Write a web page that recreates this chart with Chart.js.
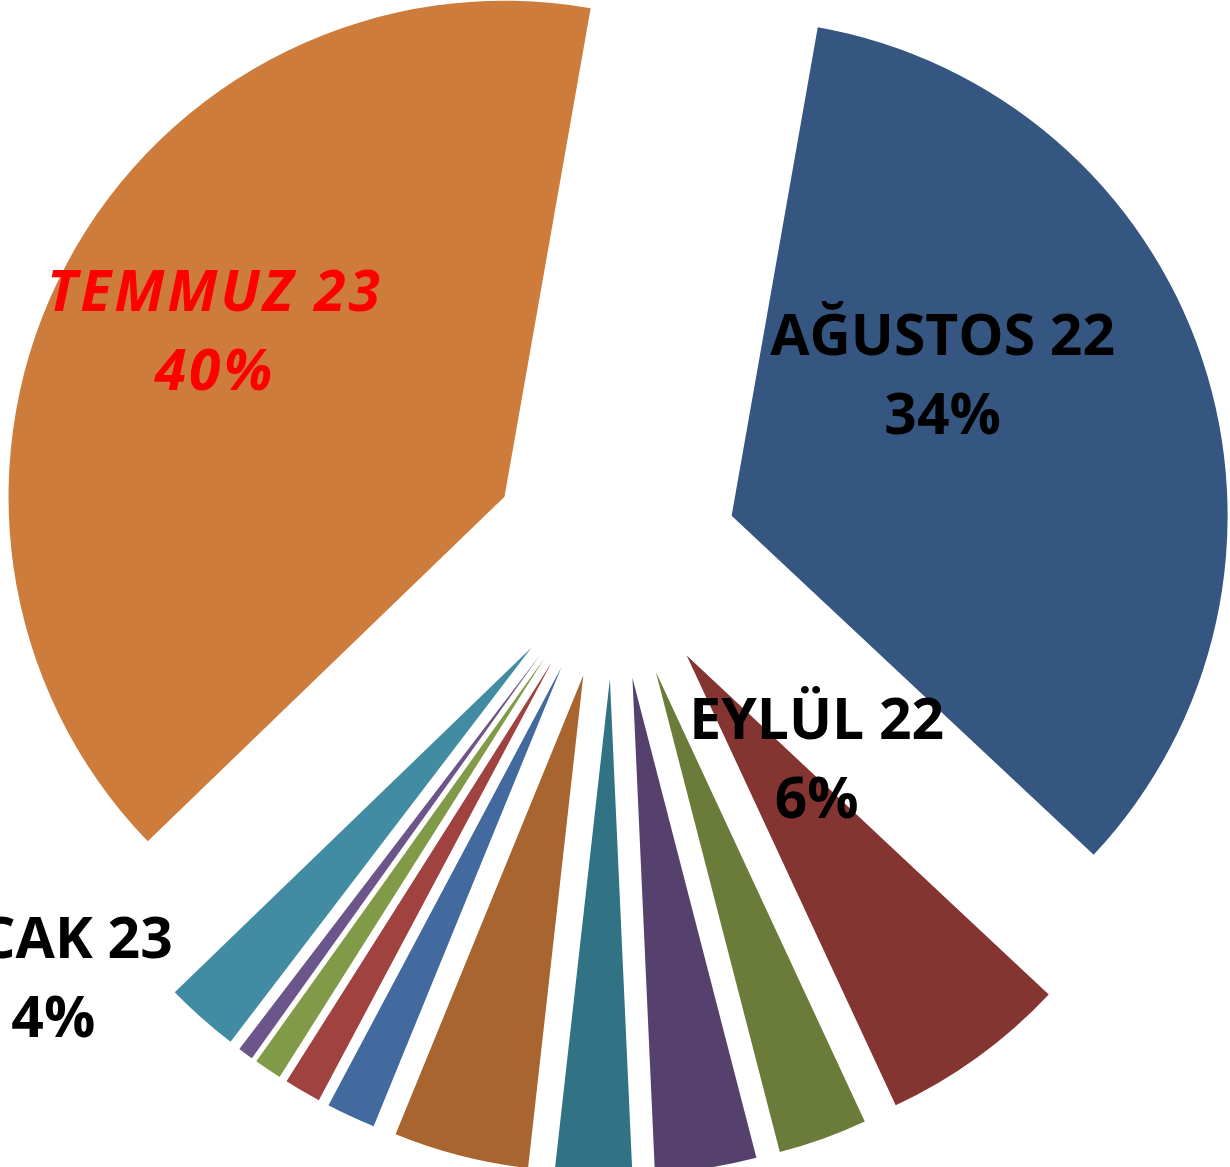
<!DOCTYPE html>
<html><head><meta charset="utf-8">
<script src="https://cdn.jsdelivr.net/npm/chart.js@4.4.1/dist/chart.umd.min.js"></script>
<style>html,body{margin:0;padding:0;background:#fff;overflow:hidden}canvas{display:block}</style>
</head><body>
<canvas id="c" width="1230" height="1167"></canvas>
<script>
// ---- data ----
const categories = ['AĞUSTOS 22','EYLÜL 22','EKİM 22','KASIM 22','ARALIK 22','OCAK 23','ŞUBAT 23','MART 23','NİSAN 23','MAYIS 23','HAZİRAN 23','TEMMUZ 23'];
const shares = [34.2, 6.1, 2.9, 3.3, 2.5, 4.4, 1.6, 1.2, 0.9, 0.5, 2.4, 40.0];
const labelledCategories = ['AĞUSTOS 22','EYLÜL 22','OCAK 23','TEMMUZ 23'];

// ---- styles / layout ----
const sliceColors = ['#355680','#843532','#6B7C3A','#56416E','#317385','#A86530','#436A9E','#A04240','#819A48','#6C558A','#418CA2','#CD7C3B'];
const layout = { rotation: 10, radius: 496, explode: 124 };
const labelPlacement = {
  'AĞUSTOS 22': { dx: 211, dy: -142, color: '#000000', italic: false, spacing: 0 },
  'EYLÜL 22':   { dx: 130, dy: 103,  color: '#000000', italic: false, spacing: 0 },
  'OCAK 23':    { dx: -530, dy: 302, color: '#000000', italic: false, spacing: 0 },
  'TEMMUZ 23':  { dx: -291, dy: -167, color: '#FF0000', italic: true, spacing: 3 }
};
const labelFont = { family: '"Open Sans", Lato, sans-serif', size: 57, capHalf: 60, firstBase: 19 };

const explodePlugin = {
  id: 'explode',
  afterDatasetsUpdate(chart) {
    const meta = chart.getDatasetMeta(0);
    const ca = chart.chartArea;
    const cx = (ca.left + ca.right) / 2, cy = (ca.top + ca.bottom) / 2;
    meta.data.forEach(arc => {
      const mid = (arc.startAngle + arc.endAngle) / 2;
      arc.x = cx + layout.explode * Math.cos(mid);
      arc.y = cy + layout.explode * Math.sin(mid);
    });
  }
};

const labelPlugin = {
  id: 'sliceLabels',
  afterDatasetsDraw(chart) {
    const ctx = chart.ctx;
    const meta = chart.getDatasetMeta(0);
    const data = chart.data.datasets[0].data;
    const total = data.reduce((a, b) => a + b, 0);
    ctx.save();
    ctx.textAlign = 'center';
    ctx.textBaseline = 'alphabetic';
    chart.data.labels.forEach((name, i) => {
      if (!labelledCategories.includes(name)) return;
      const p = labelPlacement[name];
      const arc = meta.data[i];
      const x = arc.x + p.dx, y = arc.y + p.dy;
      ctx.fillStyle = p.color;
      ctx.font = (p.italic ? 'italic ' : '') + 'bold ' + labelFont.size + 'px ' + labelFont.family;
      if ('letterSpacing' in ctx) ctx.letterSpacing = p.spacing + 'px';
      ctx.fillText(name, x + p.spacing / 2, y - labelFont.firstBase);
      ctx.fillText(Math.round(data[i] / total * 100) + '%', x + p.spacing / 2, y + labelFont.capHalf);
    });
    ctx.restore();
  }
};

new Chart(document.getElementById('c'), {
  type: 'pie',
  data: {
    labels: categories,
    datasets: [{
      data: shares,
      backgroundColor: sliceColors,
      borderWidth: 0
    }]
  },
  options: {
    responsive: false,
    animation: false,
    events: [],
    rotation: layout.rotation,
    radius: layout.radius,
    layout: { padding: { left: 0, right: 2, top: 0, bottom: 57 } },
    plugins: { legend: { display: false }, tooltip: { enabled: false } }
  },
  plugins: [explodePlugin, labelPlugin]
});
</script>
</body></html>
